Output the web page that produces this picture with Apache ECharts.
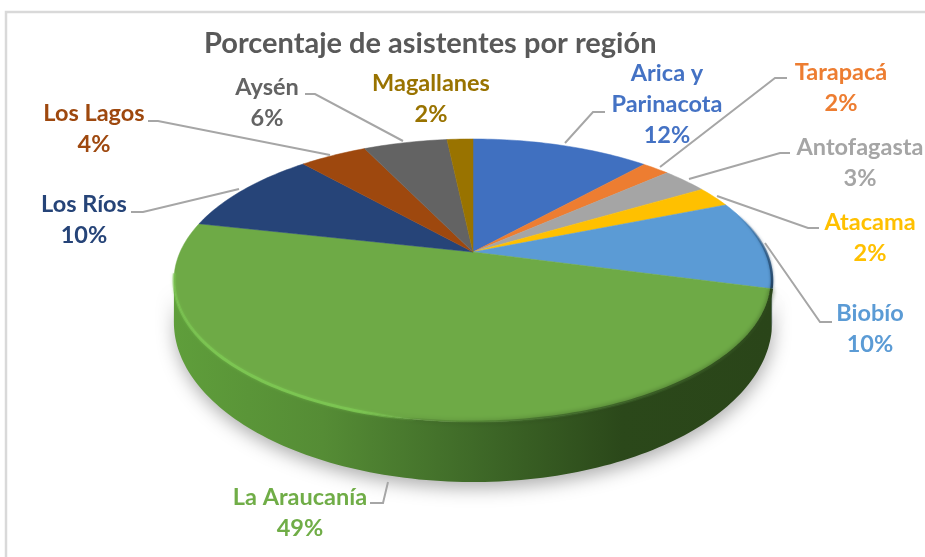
<!DOCTYPE html>
<html>
<head>
<meta charset="utf-8">
<style>
  html, body { margin: 0; padding: 0; background: #fff; }
  #chart { width: 925px; height: 557px; }
</style>
<script src="https://cdn.jsdelivr.net/npm/echarts@6/dist/echarts.min.js"></script>
</head>
<body>
<div id="chart"></div>
<script>
// valores
const regiones = ['Arica y\nParinacota', 'Tarapacá', 'Antofagasta', 'Atacama', 'Biobío', 'La Araucanía', 'Los Ríos', 'Los Lagos', 'Aysén', 'Magallanes']
const porcentajes = [11.7, 1.8, 3.0, 2.4, 10.2, 49.3, 9.9, 4.4, 5.5, 1.7]
const colores = ['#4070c0', '#ed7d31', '#a5a5a5', '#ffc000', '#5b9bd5', '#6eaa46', '#264478', '#9e480e', '#636363', '#997300']
const coloresTexto = ['#4472c4', '#ed7d31', '#a5a5a5', '#ffc000', '#5b9bd5', '#70ad47', '#264478', '#9e480e', '#636363', '#997300']

// geometria de la perspectiva
const tapa = { cx: 473, cy: 252, a: 292.9, b: 135.8, k: 0.2014 }
const base = { cx: 473, cy: 289.8, a: 293, b: 153.5, k: 0.2014 }
const FONT = '"Lato", "Open Sans", sans-serif'

// posicion de etiquetas: x, y de la primera linea
const etiquetas = [
  [667, 73], [841, 72], [860, 147], [870, 222], [870, 313],
  [300, 497], [84, 204], [94, 113], [267, 87], [431, 83]
]
// lineas guia
const guias = [
  [[565, 143], [593, 112], [605, 112]],
  [[660, 167], [775, 78], [787, 78]],
  [[689, 179], [780, 153], [790, 153]],
  [[717, 196], [808, 228], [819, 228]],
  [[765, 243], [820, 322], [832, 322]],
  [[388, 482], [383, 503], [370, 503]],
  [[239, 189], [143, 212], [131, 212]],
  [[330, 155], [158, 121], [148, 121]],
  [[403, 141], [315, 94], [305, 94]],
  null
]

const total = porcentajes.reduce((s, v) => s + v, 0)
const inicios = []
porcentajes.reduce((acum, v, i) => {
  inicios[i] = acum
  return acum + v
}, 0)

// angulo (desde arriba, sentido horario) a pixel
function proyectar(g, ang) {
  const u = Math.sin(ang)
  const v = -Math.cos(ang)
  const w = 1 - g.k * v
  return [g.cx + g.a * u / w, g.cy + g.b * v / w]
}

function arco(g, a0, a1) {
  const n = Math.max(2, Math.ceil(Math.abs(a1 - a0) / 0.02))
  const pts = []
  for (let i = 0; i <= n; i++) {
    pts.push(proyectar(g, a0 + (a1 - a0) * i / n))
  }
  return pts
}

function angulos(i) {
  return [inicios[i] / total * Math.PI * 2, (inicios[i] + porcentajes[i]) / total * Math.PI * 2]
}

// rango visible de la pared: entre los puntos mas anchos de la elipse
const VIS0 = Math.acos(-tapa.k)
const VIS1 = Math.PI * 2 - VIS0

function paredGradiente(i) {
  if (i === 5) {
    return new echarts.graphic.LinearGradient(0, 0, 1, 0, [
      { offset: 0, color: '#5f9e3b' },
      { offset: 0.25, color: '#558c35' },
      { offset: 0.5, color: '#3f6a28' },
      { offset: 0.75, color: '#2b481a' },
      { offset: 1, color: '#2a4519' }
    ])
  }
  return '#1f3f5f'
}

const chart = echarts.init(document.getElementById('chart'))

chart.setOption({
  animation: false,
  title: {
    text: 'Porcentaje de asistentes por región',
    left: 199,
    top: 24,
    textStyle: { color: '#595959', fontFamily: FONT, fontWeight: 'bold', fontSize: 29 }
  },
  graphic: [
    {
      type: 'polyline',
      shape: { points: [[6, 557], [6, 12], [925, 12]] },
      style: { stroke: '#d9d9d9', lineWidth: 2.5, fill: null }
    }
  ],
  series: [
    // pared del cilindro
    {
      type: 'custom',
      coordinateSystem: 'none',
      z: 1,
      silent: true,
      data: porcentajes.map((v, i) => [i, v]),
      renderItem(params, api) {
        const i = api.value(0)
        const r = angulos(i)
        const a0 = Math.max(r[0], VIS0)
        const a1 = Math.min(r[1], VIS1)
        if (a1 <= a0) return
        const pts = arco(tapa, a0, a1).concat(arco(base, a1, a0))
        return {
          type: 'polygon',
          shape: { points: pts },
          style: {
            fill: paredGradiente(i),
            shadowColor: 'rgba(0,0,0,0.32)',
            shadowBlur: 18,
            shadowOffsetX: 1,
            shadowOffsetY: 6
          }
        }
      }
    },
    // sectores de la tapa
    {
      type: 'custom',
      coordinateSystem: 'none',
      z: 2,
      silent: true,
      data: porcentajes.map((v, i) => [i, v]),
      renderItem(params, api) {
        const i = api.value(0)
        const r = angulos(i)
        const pts = [[tapa.cx, tapa.cy]].concat(arco(tapa, r[0], r[1]))
        return {
          type: 'polygon',
          shape: { points: pts },
          style: { fill: colores[i], stroke: colores[i], lineWidth: 0.5 }
        }
      }
    },
    // bisel del borde: claro a la izquierda, oscuro a la derecha
    {
      type: 'custom',
      coordinateSystem: 'none',
      z: 3,
      silent: true,
      data: [[4, porcentajes[4]], [5, porcentajes[5]]],
      renderItem(params, api) {
        const i = api.value(0)
        const r = angulos(i)
        if (i === 4) {
          return {
            type: 'polyline',
            shape: { points: arco(tapa, r[1] - 0.55, r[1]) },
            style: {
              fill: null,
              lineWidth: 2.5,
              shadowColor: 'rgba(31,74,112,0.7)',
              shadowBlur: 3,
              stroke: new echarts.graphic.LinearGradient(0, 0, 0, 1, [
                { offset: 0, color: 'rgba(40,80,120,0)' },
                { offset: 0.6, color: 'rgba(40,80,120,0.8)' },
                { offset: 1, color: 'rgba(31,63,95,1)' }
              ])
            }
          }
        }
        const medio = Math.PI * 1.05
        return {
          type: 'group',
          children: [
            {
              type: 'polyline',
              shape: { points: arco(tapa, r[0], Math.PI * 1.1) },
              style: {
                fill: null,
                lineWidth: 3,
                shadowColor: 'rgba(43,70,26,0.8)',
                shadowBlur: 5,
                stroke: new echarts.graphic.LinearGradient(0, 0, 1, 0, [
                  { offset: 0, color: 'rgba(70,110,45,0)' },
                  { offset: 0.45, color: 'rgba(60,100,40,0.7)' },
                  { offset: 1, color: 'rgba(43,70,26,1)' }
                ])
              }
            },
            {
              type: 'polyline',
              shape: { points: arco(tapa, medio, VIS1 + 0.05) },
              style: {
                fill: null,
                lineWidth: 3,
                shadowColor: 'rgba(124,198,82,0.6)',
                shadowBlur: 3,
                stroke: new echarts.graphic.LinearGradient(0, 0, 1, 0, [
                  { offset: 0, color: 'rgba(124,198,82,0.55)' },
                  { offset: 0.2, color: 'rgba(124,198,82,1)' },
                  { offset: 0.75, color: 'rgba(124,198,82,0.9)' },
                  { offset: 1, color: 'rgba(124,198,82,0)' }
                ])
              }
            }
          ]
        }
      }
    },
    // etiquetas y guias
    {
      type: 'custom',
      coordinateSystem: 'none',
      z: 4,
      silent: true,
      data: porcentajes.map((v, i) => [i, v]),
      renderItem(params, api) {
        const i = api.value(0)
        const lineas = regiones[i].split('\n').concat(Math.round(api.value(1)) + '%')
        const children = lineas.map((t, n) => ({
          type: 'text',
          style: {
            text: t,
            x: etiquetas[i][0],
            y: etiquetas[i][1] + n * 31,
            fill: coloresTexto[i],
            font: 'bold 23.5px ' + FONT,
            textAlign: 'center',
            textVerticalAlign: 'middle'
          }
        }))
        if (guias[i]) {
          children.push({
            type: 'polyline',
            shape: { points: guias[i] },
            style: { fill: null, stroke: '#a6a6a6', lineWidth: 2 }
          })
        }
        return { type: 'group', children }
      }
    }
  ]
})
</script>
</body>
</html>
